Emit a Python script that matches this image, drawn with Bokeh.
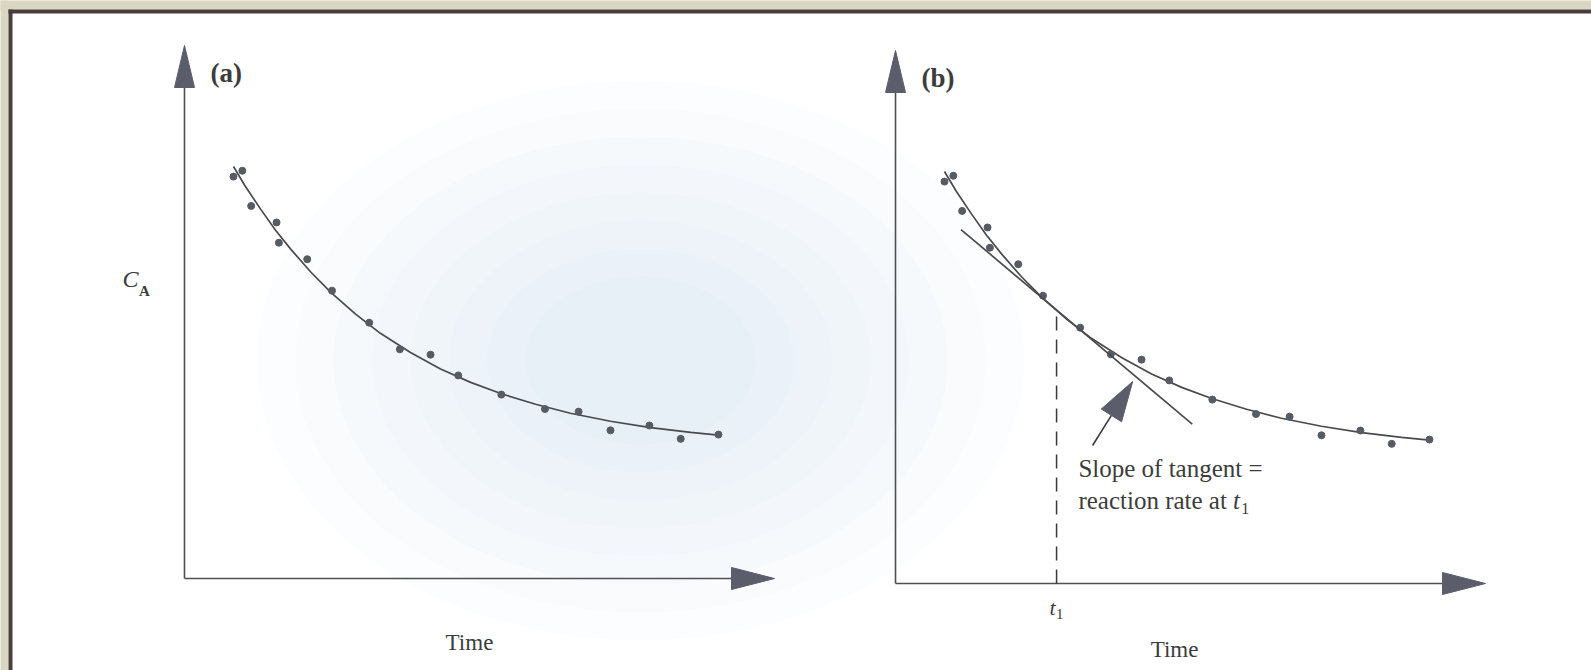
import math
from bokeh.plotting import figure
from bokeh.models import Range1d
from bokeh.core.properties import value
from bokeh.embed import file_html
from bokeh.resources import INLINE

time = [0.83, 0.98, 1.13, 1.56, 1.60, 2.08, 2.50, 3.13, 3.65, 4.17, 4.64, 5.37,
        6.11, 6.68, 7.22, 7.88, 8.41, 9.05]
conc = [7.54, 7.65, 6.99, 6.68, 6.30, 5.99, 5.40, 4.80, 4.30, 4.20, 3.81, 3.45,
        3.18, 3.13, 2.78, 2.87, 2.62, 2.70]
fit_time = [0.83, 1.03, 1.29, 1.54, 1.80, 2.14, 2.48, 2.90, 3.32, 3.83, 4.34, 4.85,
            5.36, 5.95, 6.54, 7.22, 7.90, 8.58, 9.05]
fit_conc = [7.73, 7.36, 6.93, 6.54, 6.18, 5.75, 5.37, 4.96, 4.60, 4.24, 3.93, 3.68,
            3.47, 3.27, 3.10, 2.95, 2.83, 2.74, 2.69]
tangent_time = [1.11, 5.03]
tangent_conc = [6.64, 2.99]
t1 = 2.73
t1_conc = 5.10
pointer_time = [3.34, 4.02]   # tail, tip
pointer_conc = [2.59, 3.79]
axis_max = 10

# ---------------- layout constants (page pixels) ----------------
W, H = 1591, 670
PX_T, PX_C = 59.0, 53.3          # pixels per unit
OA = (184.0, 578.0)              # origin of panel (a)
OB = (895.0, 583.0)              # origin of panel (b)

def ranges(origin):
    ox, oy = origin
    return Range1d(-ox / PX_T, (W - ox) / PX_T), Range1d((oy - H) / PX_C, oy / PX_C)

xa, ya = ranges(OA)
xb, yb = ranges(OB)

def ax(px):  # page x -> panel (a) data
    return (px - OA[0]) / PX_T

def ay(py):
    return (OA[1] - py) / PX_C

p = figure(width=W, height=H, x_range=xa, y_range=ya, output_backend="svg",
           toolbar_location=None, min_border=0, min_border_left=0, min_border_top=0,
           min_border_right=0, min_border_bottom=0)
p.extra_x_ranges = {"b": xb}
p.extra_y_ranges = {"b": yb}
p.xaxis.visible = False
p.yaxis.visible = False
p.grid.visible = False
p.outline_line_color = None
p.border_fill_color = "white"
p.background_fill_color = "white"

# page surround: beige marble edge and dark frame line
BEIGE, FRAME = "#d9d6c1", "#4b3d3b"
p.quad(left=[ax(-5), ax(-5)], right=[ax(8), ax(W + 5)],
       bottom=[ay(H + 5), ay(9)], top=[ay(-5), ay(-5)],
       fill_color=BEIGE, line_color=None)
p.quad(left=[ax(8), ax(8)], right=[ax(12), ax(W + 5)],
       bottom=[ay(H + 5), ay(13)], top=[ay(9), ay(9)],
       fill_color=FRAME, line_color=None)

# faint bluish scan wash (soft, layered)
for k in range(8):
    f = 1 - k * 0.1
    p.ellipse(x=[ax(640)], y=[ay(360)], width=[13.0 * f], height=[10.5 * f],
              fill_color="#c4d4f0", fill_alpha=0.045, line_color=None)

AX = "#4f4f55"
HEAD = "#5b5d6b"
INK = "#3c3c3c"
SERIF = value("Liberation Serif")

L_T, HW_C = 43 / PX_T, 11 / PX_C     # x-axis head length / half height
L_C, HW_T = 42 / PX_C, 10 / PX_T     # y-axis head length / half width

def panel(rn):
    kw = {} if rn is None else {"x_range_name": rn, "y_range_name": rn}
    p.line([0, axis_max - L_T], [0, 0], line_color=AX, line_width=1.6, **kw)
    p.line([0, 0], [0, axis_max - L_C], line_color=AX, line_width=1.6, **kw)
    p.patch([axis_max, axis_max - L_T, axis_max - L_T], [0, HW_C, -HW_C],
            fill_color=HEAD, line_color=HEAD, **kw)
    p.patch([0, HW_T, -HW_T], [axis_max, axis_max - L_C, axis_max - L_C],
            fill_color=HEAD, line_color=HEAD, **kw)
    p.line(fit_time, fit_conc, line_color="#4a4a4e", line_width=1.7, **kw)
    p.scatter(time, conc, size=7, fill_color="#575b63", line_color="#575b63", **kw)

panel(None)
panel("b")

kb = {"x_range_name": "b", "y_range_name": "b"}

# tangent + t1 marker
p.line(tangent_time, tangent_conc, line_color="#4a4a4e", line_width=1.7, **kb)
p.line([t1, t1], [0, t1_conc], line_color="#3a3a3a", line_width=1.5, line_dash="14 9", **kb)

# pointer arrow (head built in pixel space from the tail/tip values)
dxp = (pointer_time[1] - pointer_time[0]) * PX_T
dyp = (pointer_conc[1] - pointer_conc[0]) * PX_C
ln = math.hypot(dxp, dyp)
ux, uy = dxp / ln, dyp / ln
HL, HWID = 40.0, 12.0
bx = pointer_time[1] - ux * HL / PX_T
by = pointer_conc[1] - uy * HL / PX_C
nx, ny = -uy, ux
p.line([pointer_time[0], bx], [pointer_conc[0], by], line_color="#3a3a3a", line_width=1.6, **kb)
p.patch([pointer_time[1], bx + nx * HWID / PX_T, bx - nx * HWID / PX_T],
        [pointer_conc[1], by + ny * HWID / PX_C, by - ny * HWID / PX_C],
        fill_color=HEAD, line_color=HEAD, **kb)

# ---------------- texts ----------------
def txt(x, y, s, size, style="normal", align="left", base="middle", **kw):
    p.text(x=[x], y=[y], text=[s], text_font=SERIF, text_font_size=f"{size}px",
           text_font_style=style, text_color=INK, text_align=align,
           text_baseline=base, **kw)

txt(0.44, 9.49, "(a)", 27, "bold")
txt(0.44, 9.49, "(b)", 27, "bold", **kb)
txt(-1.05, 5.61, "C", 24, "italic")
txt(-0.77, 5.40, "A", 15, "bold")
txt(4.83, -1.20, "Time", 23, align="center")
txt(4.73, -1.24, "Time", 23, align="center", **kb)
txt(t1 - 0.12, -0.45, "t", 22, "italic", **kb)
txt(t1 - 0.01, -0.58, "1", 15, **kb)
txt(3.10, 2.16, "Slope of tangent =", 25, **kb)
txt(3.10, 1.56, "reaction rate at", 25, **kb)
txt(5.72, 1.56, "t", 25, "italic", **kb)
txt(5.86, 1.40, "1", 16, **kb)

html = file_html(p, INLINE)
html = html.replace("</head>",
                    "<style>html,body{margin:0;padding:0;overflow:hidden;background:#ffffff;}</style></head>", 1)
open("out.html", "w").write(html)
